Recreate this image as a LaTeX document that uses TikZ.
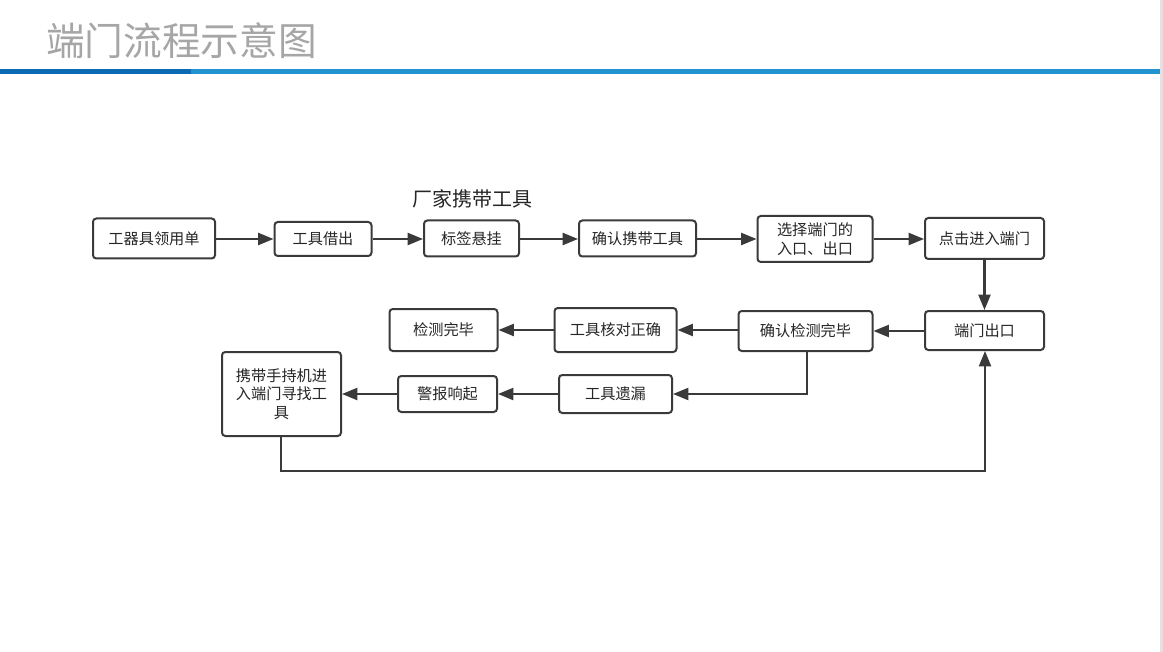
\documentclass[tikz,border=0pt]{standalone}
\usepackage{fontspec}
\setmainfont{Noto Sans CJK SC}
\newfontfamily\cjk{Noto Sans CJK SC}
\usetikzlibrary{arrows.meta,positioning}
\definecolor{linec}{HTML}{3A3A3A}
\definecolor{titlec}{HTML}{A6A6A6}
\definecolor{bardark}{HTML}{0A6BB3}
\definecolor{barlight}{HTML}{2393CF}
\definecolor{edgegray}{HTML}{E2E2E2}
\tikzset{
  fbox/.style={draw=linec, line width=1.5pt, rounded corners=2.5pt, fill=white,
    text=black!85, font=\cjk\fontsize{11.4pt}{14pt}\selectfont, align=center,
    inner sep=1pt},
  arr/.style={draw=linec, line width=1.6pt, -{Triangle[length=11.5pt,width=9pt]}},
}
\begin{document}
\begin{tikzpicture}[x=0.75pt,y=-0.75pt]
\useasboundingbox (0,0) rectangle (1163,652);
\fill[white] (0,0) rectangle (1163,652);
\fill[edgegray] (1160,0) rectangle (1163,652);
% header
\node[anchor=west, text=titlec, font=\cjk\fontsize{29pt}{31pt}\selectfont, inner sep=0pt] (title) at (46,41) {端门流程示意图};
\fill[bardark] (0,69.5) rectangle (191,74);
\fill[barlight] (191,69.5) rectangle (1160,74);
% label
\node[font=\cjk\fontsize{15pt}{17pt}\selectfont, text=black!85, inner sep=0pt] (lbl) at (472,199) {厂家携带工具};
% row 1
\node[fbox, minimum width=91.5pt, minimum height=30pt] (n1) at (154,238.5) {工器具领用单};
\node[fbox, minimum width=72.75pt, minimum height=25.5pt] (n2) at (323,239) {工具借出};
\node[fbox, minimum width=71.25pt, minimum height=27pt] (n3) at (471.5,238.5) {标签悬挂};
\node[fbox, minimum width=87.75pt, minimum height=27pt] (n4) at (637.5,238.5) {确认携带工具};
\node[fbox, minimum width=86.25pt, minimum height=34.5pt] (n5) at (815,239) {选择端门的\\入口、出口};
\node[fbox, minimum width=89.25pt, minimum height=30.75pt] (n6) at (984.5,238.5) {点击进入端门};
% row 2
\node[fbox, minimum width=89.25pt, minimum height=29.25pt] (n7) at (984.5,330.5) {端门出口};
\node[fbox, minimum width=100.5pt, minimum height=30pt] (n8) at (805.5,331) {确认检测完毕};
\node[fbox, minimum width=91.5pt, minimum height=33pt] (n9) at (615.5,330) {工具核对正确};
\node[fbox, minimum width=81pt, minimum height=31.5pt] (n10) at (443.5,330) {检测完毕};
% row 3
\node[fbox, minimum width=84.75pt, minimum height=28.5pt] (n11) at (615.5,394) {工具遗漏};
\node[fbox, minimum width=74.25pt, minimum height=27pt] (n12) at (447.5,394) {警报响起};
\node[fbox, minimum width=89.25pt, minimum height=63pt] (n13) at (281.5,394) {携带手持机进\\入端门寻找工\\具};
\coordinate (c8) at (807,394);
\coordinate (b1) at (281,471);
\coordinate (b2) at (985,471);
% connectors
\draw[arr] (n1.east |- 0,239) -- (n2.west |- 0,239);
\draw[arr] (n2.east |- 0,239) -- (n3.west |- 0,239);
\draw[arr] (n3.east |- 0,239) -- (n4.west |- 0,239);
\draw[arr] (n4.east |- 0,239) -- (n5.west |- 0,239);
\draw[arr] (n5.east |- 0,239) -- (n6.west |- 0,239);
\draw[arr] (n6.south) -- (n7.north);
\draw[arr] (n7.west |- 0,331) -- (n8.east |- 0,331);
\draw[arr] (n8.west |- 0,330) -- (n9.east |- 0,330);
\draw[arr] (n9.west |- 0,330) -- (n10.east |- 0,330);
\draw[arr] (n8.south -| c8) -- (c8) -- (n11.east |- c8);
\draw[arr] (n11.west |- 0,394) -- (n12.east |- 0,394);
\draw[arr] (n12.west |- 0,394) -- (n13.east |- 0,394);
\draw[arr] (n13.south -| b1) -- (b1) -- (b2) -- (n7.south -| b2);
\end{tikzpicture}
\end{document}
